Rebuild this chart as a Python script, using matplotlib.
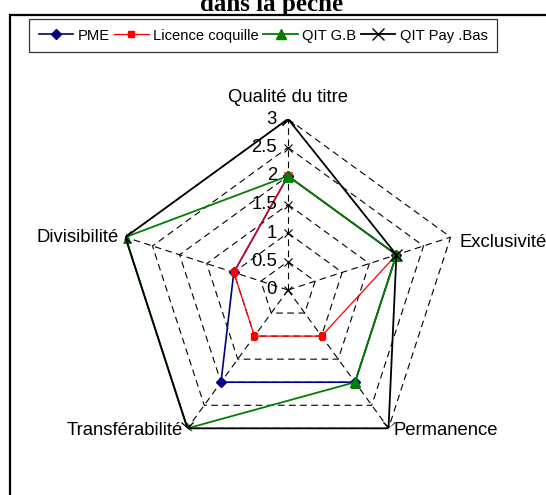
import numpy as np
import matplotlib.pyplot as plt
from matplotlib.patches import Rectangle

plt.rcParams['font.family'] = ['Liberation Sans', 'DejaVu Sans']

# axes of the radar, clockwise from the top
categories = ['Qualité du titre', 'Exclusivité', 'Permanence', 'Transférabilité', 'Divisibilité']
pme = [2, 2, 2, 2, 1]
licence = [2, 2, 1, 1, 1]
qit_gb = [2, 2, 2, 3, 3]
qit_pb = [3, 2, 3, 3, 3]
ticks = [0, 0.5, 1, 1.5, 2, 2.5, 3]

series = [
    ('PME', pme, '#000080', 'D', 5, 1.2),
    ('Licence coquille', licence, '#ff0000', 's', 4.5, 0.9),
    ('QIT G.B', qit_gb, '#008000', '^', 7, 1.3),
    ('QIT Pay .Bas', qit_pb, '#000000', 'x', 8, 1.3),
]

n = len(categories)
angles = np.linspace(0, 2 * np.pi, n, endpoint=False)
closed = np.append(angles, angles[0])

fig = plt.figure(figsize=(5.46, 4.95), dpi=100)

# outer chart border (runs off the right and bottom edges)
fig.patches.append(Rectangle((10 / 546, -0.05), 1.0, 1 - 15 / 495 + 0.05,
                             transform=fig.transFigure, fill=False,
                             edgecolor='black', linewidth=1.6))

# cut-off title at the very top
fig.text(0.497, 1 - 11 / 495, 'dans la pêche', ha='center', va='baseline',
         fontsize=18, fontweight='bold', family='Liberation Serif')

ax = fig.add_axes([117 / 546, 34 / 495, 342 / 546, 342 / 495], projection='polar')
ax.set_theta_offset(np.pi / 2)
ax.set_theta_direction(-1)
ax.set_ylim(0, 3)
ax.grid(False)
ax.spines['polar'].set_visible(False)
ax.set_xticks([])
ax.set_yticks([])
ax.patch.set_alpha(0)

# dashed pentagon grid and spokes
for t in ticks[1:]:
    ax.plot(closed, [t] * (n + 1), color='black', linestyle=(0, (6, 4)), linewidth=0.8, zorder=1)
for a in angles:
    ax.plot([a, a], [0, 3], color='black', linestyle=(0, (6, 4)), linewidth=0.8, zorder=1)

# radial tick labels along the top spoke
for t in ticks:
    ax.annotate('%g' % t, xy=(0, t), xytext=(-11, 0), textcoords='offset pixels',
                ha='right', va='center', fontsize=13.3, zorder=5)
    ax.plot([0], [t], marker='x', color='black', markersize=6, markeredgewidth=0.8, zorder=2)

for name, vals, col, mk, ms, lw in series:
    v = vals + vals[:1]
    ax.plot(closed, v, color=col, linewidth=lw, marker=mk, markersize=ms,
            markeredgecolor=col, markerfacecolor=col, label=name, zorder=3)

# category labels, offset in pixels from the outer vertex
lab_off = [((0, 21), 'center'), ((9, -5), 'left'), ((5, -2), 'left'),
           ((-5, -2), 'right'), ((-7, 0), 'right')]
for i, c in enumerate(categories):
    off, ha = lab_off[i]
    ax.annotate(c, xy=(angles[i], 3), xytext=off, textcoords='offset pixels',
                ha=ha, va='center', fontsize=13.3, annotation_clip=False)

leg = fig.legend(loc='upper left', bbox_to_anchor=(29 / 546, 1 - 19 / 495), ncol=4,
                 frameon=True, fancybox=False, edgecolor='black', fontsize=10.6,
                 handlelength=2.35, handletextpad=0.3, columnspacing=0.3,
                 borderpad=0.65, borderaxespad=0)
leg.get_frame().set_linewidth(0.9)

fig.savefig('out.png', dpi=100)
